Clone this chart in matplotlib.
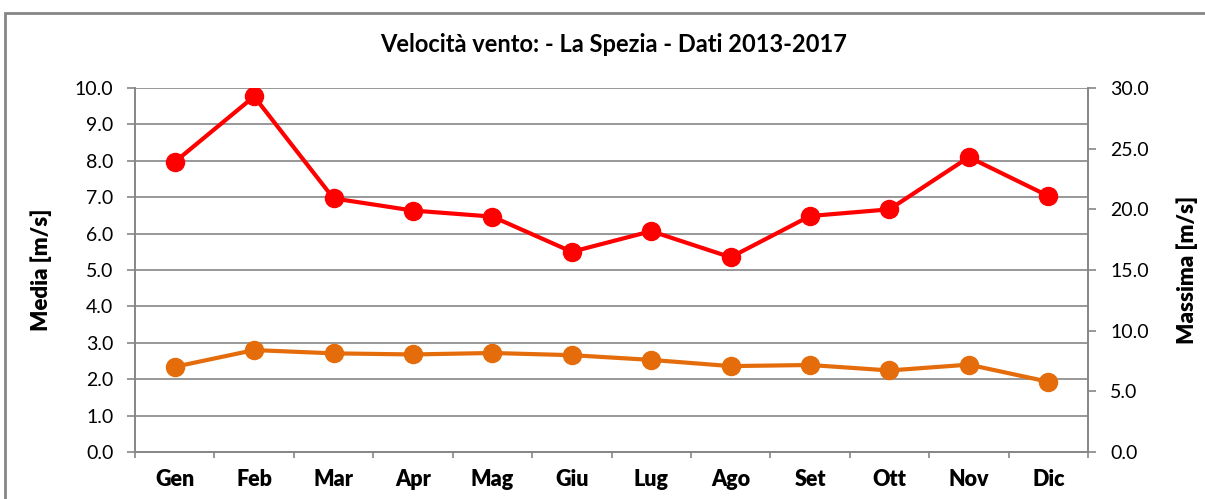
import matplotlib.pyplot as plt
from matplotlib.patches import Rectangle
import numpy as np

plt.rcParams['font.family'] = ['Lato', 'DejaVu Sans']

# Dati
mesi = ["Gen", "Feb", "Mar", "Apr", "Mag", "Giu", "Lug", "Ago", "Set", "Ott", "Nov", "Dic"]
media = [2.34, 2.80, 2.71, 2.68, 2.72, 2.66, 2.53, 2.36, 2.39, 2.24, 2.40, 1.93]
massima = [23.9, 29.3, 20.9, 19.9, 19.4, 16.5, 18.2, 16.05, 19.45, 20.0, 24.3, 21.1]

grigio = "#868686"
x = np.arange(len(mesi))

fig = plt.figure(figsize=(12.05, 4.99), dpi=100)
ax = fig.add_axes([135 / 1205, 47 / 499, 953 / 1205, 364 / 499])
ax2 = ax.twinx()

# linee
ax.plot(x, media, color="#E46C0A", lw=3, marker="o", ms=13, zorder=3)
ax2.plot(x, massima, color="#FF0000", lw=3, marker="o", ms=13, zorder=3)

# assi
ax.set_xlim(-0.5, len(mesi) - 0.5)
ax.set_ylim(0, 10)
ax2.set_ylim(0, 30)
ax.set_yticks(np.arange(0, 10.1, 1))
ax.set_yticklabels([f"{v:.1f}" for v in np.arange(0, 10.1, 1)])
ax2.set_yticks(np.arange(0, 30.1, 5))
ax2.set_yticklabels([f"{v:.1f}" for v in np.arange(0, 30.1, 5)])

ax.set_xticks(x)
ax.set_xticklabels(mesi, fontweight="heavy", fontsize=15.5)
ax.set_xticks(np.arange(-0.5, len(mesi)), minor=True)
ax.tick_params(axis="x", which="major", length=0, pad=12)
ax.tick_params(axis="x", which="minor", length=4.5, color=grigio, width=1.2)
ax.tick_params(axis="y", length=5.5, color=grigio, width=1.2, labelsize=14, pad=10)
ax2.tick_params(axis="y", length=6, color=grigio, width=1.2, labelsize=14, pad=10)

ax.grid(axis="y", color=grigio, lw=1.2)
ax.set_axisbelow(True)

for a in (ax, ax2):
    a.spines["top"].set_visible(False)
    for s in ("left", "right", "bottom"):
        a.spines[s].set_color(grigio)
        a.spines[s].set_linewidth(1.2)

ax.set_ylabel("Media [m/s]", fontdict={"weight": "heavy", "size": 16})
ax2.set_ylabel("Massima [m/s]", fontdict={"weight": "heavy", "size": 16})
ax.yaxis.set_label_coords(-0.087, 0.5)
ax2.yaxis.set_label_coords(1.093, 0.5)

fig.text(0.509, 0.91, "Velocità vento: - La Spezia - Dati 2013-2017",
         ha="center", va="center", fontsize=17, fontweight="bold")

# cornice del grafico
fig.patches.append(Rectangle((5 / 1205, -0.2), 1.2, 1.2 - 13 / 499,
                             transform=fig.transFigure, fill=False,
                             edgecolor=grigio, lw=2))

fig.savefig("out.png", dpi=100)
